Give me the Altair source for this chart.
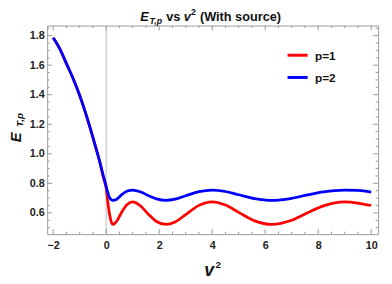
import altair as alt
import pandas as pd

# ---- data ----
v2 = [-2.0, -1.75, -1.5, -1.25, -1.0, -0.75, -0.5, -0.25, -0.1, 0.0, 0.05, 0.1, 0.15,
      0.2, 0.25, 0.3, 0.4, 0.6, 0.8, 1.0, 1.3, 1.6, 1.9, 2.25, 2.6, 3.0, 3.5, 4.0,
      4.5, 5.0, 5.6, 6.25, 7.0, 7.6, 8.2, 9.0, 9.5, 10.0]
e_p1 = [1.785, 1.71, 1.61, 1.51, 1.395, 1.26, 1.11, 0.95, 0.835, 0.765, 0.69, 0.62, 0.57,
        0.535, 0.522, 0.525, 0.545, 0.61, 0.659, 0.675, 0.647, 0.59, 0.542, 0.522, 0.539,
        0.589, 0.651, 0.675, 0.653, 0.604, 0.546, 0.522, 0.55, 0.601, 0.648, 0.675,
        0.667, 0.65]
e_p2 = [1.785, 1.71, 1.61, 1.51, 1.395, 1.26, 1.11, 0.95, 0.845, 0.78, 0.745, 0.715, 0.697,
        0.688, 0.685, 0.686, 0.693, 0.725, 0.748, 0.755, 0.742, 0.717, 0.695, 0.685, 0.693,
        0.716, 0.744, 0.755, 0.745, 0.723, 0.697, 0.685, 0.699, 0.722, 0.743, 0.755,
        0.752, 0.741]
series = ["p=1", "p=2"]
colors = ["#ff0000", "#0000ff"]

x_major = [-2, 0, 2, 4, 6, 8, 10]
x_minor = [-1.5, -1, -0.5, 0.5, 1, 1.5, 2.5, 3, 3.5, 4.5, 5, 5.5, 6.5, 7, 7.5, 8.5, 9, 9.5]
y_major = [0.6, 0.8, 1.0, 1.2, 1.4, 1.6, 1.8]
y_minor = [0.5, 0.55, 0.65, 0.7, 0.75, 0.85, 0.9, 0.95, 1.05, 1.1, 1.15, 1.25, 1.3, 1.35,
           1.45, 1.5, 1.55, 1.65, 1.7, 1.75, 1.85]

W, H = 338, 213
FONT = "Liberation Sans"
GRAY = "#9a9a9a"

df = pd.DataFrame({
    "v2": v2 + v2,
    "E": e_p1 + e_p2,
    "series": [series[0]] * len(v2) + [series[1]] * len(v2),
})

xs = alt.Scale(domain=[-2.228, 10.262], nice=False, zero=False)
ys = alt.Scale(domain=[0.4565, 1.868], nice=False, zero=False)

x_axis = alt.Axis(values=x_major, format="d", title=None, grid=False, domain=False,
                  ticks=False, tickSize=0, labelPadding=6, labelFontSize=11,
                  labelFont=FONT, labelFontWeight="bold", labelColor="#222")
y_axis = alt.Axis(values=y_major, format=".1f", title="E", grid=False, domain=False,
                  ticks=False, tickSize=0, labelPadding=3, labelFontSize=11,
                  labelFont=FONT, labelFontWeight="bold", labelColor="#222",
                  titleFont=FONT, titleFontSize=15, titleFontStyle="italic",
                  titleFontWeight="bold", titleColor="#111", titleAngle=270,
                  titleAlign="left", titleBaseline="alphabetic",
                  titleX=-27, titleY=118.7)

one = alt.Data(values=[{}])

zero_line = alt.Chart(pd.DataFrame({"z": [0]})).mark_rule(color="#d0d0d0", strokeWidth=1.5).encode(
    x=alt.X("z:Q", scale=xs, axis=x_axis))

lines = alt.Chart(df).mark_line(strokeWidth=2.8, interpolate="monotone").encode(
    x=alt.X("v2:Q", scale=xs, axis=x_axis),
    y=alt.Y("E:Q", scale=ys, axis=y_axis),
    color=alt.Color("series:N", scale=alt.Scale(domain=series, range=colors), legend=None),
)


def xticks(vals, length):
    d = pd.DataFrame({"t": vals})
    bot = alt.Chart(d).mark_rule(color=GRAY, strokeWidth=1).encode(
        x=alt.X("t:Q", scale=xs, axis=x_axis), y=alt.value(H), y2=alt.value(H - length))
    top = alt.Chart(d).mark_rule(color=GRAY, strokeWidth=1).encode(
        x=alt.X("t:Q", scale=xs, axis=x_axis), y=alt.value(0), y2=alt.value(length))
    return [bot, top]


def yticks(vals, length):
    d = pd.DataFrame({"t": vals})
    left = alt.Chart(d).mark_rule(color=GRAY, strokeWidth=1).encode(
        y=alt.Y("t:Q", scale=ys, axis=y_axis), x=alt.value(0), x2=alt.value(length))
    right = alt.Chart(d).mark_rule(color=GRAY, strokeWidth=1).encode(
        y=alt.Y("t:Q", scale=ys, axis=y_axis), x=alt.value(W), x2=alt.value(W - length))
    return [left, right]


tick_layers = xticks(x_major, 5) + xticks(x_minor, 2.5) + yticks(y_major, 5) + yticks(y_minor, 2.5)


def txt(s, x, y, size, italic=False, angle=0):
    kw = dict(font=FONT, fontSize=size, fontWeight="bold", align="left",
              baseline="alphabetic", color="#111", angle=angle)
    if italic:
        kw["fontStyle"] = "italic"
    return alt.Chart(one).mark_text(**kw).encode(
        x=alt.value(x), y=alt.value(y), text=alt.value(s))


def legend_line(color, y):
    return alt.Chart(one).mark_rule(color=color, strokeWidth=3).encode(
        x=alt.value(245.5), x2=alt.value(266), y=alt.value(y))


texts = [
    # title
    txt("E", 95, -4.8, 13, italic=True),
    txt("T,p", 104.5, -1.8, 9, italic=True),
    txt("vs", 121.5, -4.8, 13),
    txt("v", 139.5, -4.8, 13, italic=True),
    txt("2", 147, -10.8, 9),
    txt("(With source)", 156, -4.8, 13),
    # y title subscript
    txt("T,p", -25, 103.5, 10, italic=True, angle=270),
    # x title
    txt("v", 160.3, 255.3, 18, italic=True),
    txt("2", 172, 247.7, 10),
    # legend
    legend_line(colors[0], 30.3),
    txt(series[0], 273.5, 34.8, 12),
    legend_line(colors[1], 53),
    txt(series[1], 273.5, 57.5, 12),
]

chart = alt.layer(zero_line, *tick_layers, lines, *texts).properties(
    width=W, height=H,
    autosize=alt.AutoSizeParams(type="none"),
    padding={"left": 40, "top": 15, "right": 6, "bottom": 48},
).configure_view(stroke=GRAY, strokeWidth=1)

chart.save("out.html", embed_options={"renderer": "svg", "actions": False})
